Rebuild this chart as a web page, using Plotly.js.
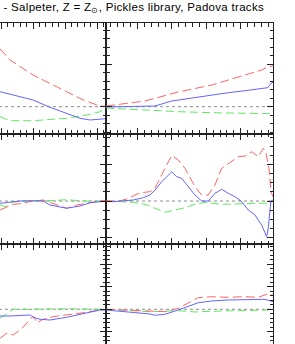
<!DOCTYPE html>
<html>
<head>
<meta charset="utf-8">
<script src="https://cdn.plot.ly/plotly-3.0.1.min.js"></script>
<style>
html,body{margin:0;padding:0;width:295px;height:344px;overflow:hidden;background:#fff;}
#chart{position:absolute;left:-61px;top:0;width:356px;height:355px;}
#chart .annotation-text{letter-spacing:0.3px;}
</style>
</head>
<body>
<div id="chart"></div>
<script>
// ---- Row 1 (top) ----
const r1L_red_x = [6.97, 7.28, 8.0, 8.53, 9.05, 9.57, 10.09, 10.28];
const r1L_red_y = [0.136, 0.110, 0.0746, 0.055, 0.0353, 0.0158, 0.0016, 0.0005];
const r1L_blue_x = [6.97, 8.0, 8.53, 9.05, 9.47, 9.78, 10.09, 10.28];
const r1L_blue_y = [0.0353, 0.0158, -0.0014, -0.0155, -0.0273, -0.0313, -0.0296, -0.0282];
const r1L_green_x = [6.97, 7.28, 8.0, 9.05, 9.68, 10.09, 10.28];
const r1L_green_y = [-0.0235, -0.033, -0.033, -0.0273, -0.0195, -0.0118, -0.003];

const r1R_red_x = [-0.924, -0.516, 0.213, 1.184, 2.157, 3.128, 3.516, 3.624, 3.79, 3.945];
const r1R_red_y = [0.0016, 0.0064, 0.0134, 0.0346, 0.051, 0.0746, 0.0824, 0.0864, 0.0941, 0.0958];
const r1R_blue_x = [-0.924, 0.213, 0.504, 0.991, 1.671, 2.157, 2.641, 3.128, 3.516, 3.79, 3.886, 3.945];
const r1R_blue_y = [-0.0007, 0, 0.0016, 0.0134, 0.0221, 0.0275, 0.0329, 0.0376, 0.0416, 0.0447, 0.055, 0.0574];
const r1R_green_x = [-0.924, -0.808, 0.262, 1.184, 2.157, 3.128, 3.857];
const r1R_green_y = [-0.002, -0.0038, -0.0078, -0.0118, -0.0141, -0.0155, -0.0165];

// ---- Row 2 (middle) ----
const r2L_red_x = [6.97, 7.18, 7.38, 7.59, 8.0, 8.32, 8.53, 9.05, 9.37, 9.78, 10.2, 10.28];
const r2L_red_y = [-0.0247, -0.0157, -0.0091, -0.0074, 0, 0.0027, -0.0036, -0.020, -0.011, -0.0036, 0.0019, 0.0019];
const r2L_blue_x = [6.97, 7.28, 7.59, 8.0, 8.32, 8.53, 9.05, 9.47, 9.78, 10.09, 10.28];
const r2L_blue_y = [-0.0063, -0.0036, 0, 0.0008, 0, -0.011, -0.020, -0.0137, -0.0047, -0.0019, -0.0008];
const r2L_green_x = [6.97, 7.125, 7.28, 7.80, 8.32, 9.05, 9.57, 10.28];
const r2L_green_y = [-0.011, -0.0157, -0.0036, 0, 0, 0.0036, 0, 0];

const r2R_red_x = [-0.924, -0.612, -0.321, -0.128, 0.067, 0.359, 0.504, 0.796, 0.991, 1.184, 1.379, 1.671, 1.866, 2.058, 2.254, 2.449, 2.74, 2.933, 3.128, 3.324, 3.516, 3.662, 3.732, 3.828, 3.886, 3.945];
const r2R_red_y = [0.0019, -0.0019, 0.0055, 0.0146, 0.0228, 0.0255, 0.0349, 0.0898, 0.1245, 0.1126, 0.0898, 0.0393, 0.0165, 0.0165, 0.044, 0.0898, 0.108, 0.1217, 0.1236, 0.1354, 0.1217, 0.1448, 0.1354, 0.0898, 0.0255, 0.0118];
const r2R_blue_x = [-0.924, -0.72, -0.128, 0.163, 0.359, 0.504, 0.70, 0.892, 0.991, 1.137, 1.283, 1.475, 1.671, 1.866, 2.058, 2.254, 2.449, 2.641, 2.837, 3.032, 3.224, 3.42, 3.615, 3.761, 3.808, 3.857, 3.886, 3.945];
const r2R_blue_y = [-0.0008, -0.0019, 0.0027, 0.0091, 0.0165, 0.030, 0.053, 0.0714, 0.080, 0.0668, 0.0624, 0.0393, 0.0165, 0, 0, 0.0212, 0.0321, 0.0212, 0.0118, -0.0019, -0.0247, -0.0385, -0.066, -0.098, -0.074, -0.0247, 0, 0.0027];
const r2R_green_x = [-0.924, -0.128, 0.213, 0.504, 0.796, 1.087, 1.379, 1.671, 1.962, 2.449, 3.128, 3.808];
const r2R_green_y = [0, -0.0036, -0.0091, -0.020, -0.031, -0.0247, -0.0184, -0.0091, -0.0036, -0.0091, -0.0063, -0.0055];

// ---- Row 3 (bottom) ----
const r3L_red_x = [6.97, 7.18, 7.38, 7.59, 7.75, 7.91, 8.01, 8.12, 8.32, 8.63, 9.05, 9.57, 10.09, 10.28];
const r3L_red_y = [-0.0644, -0.0533, -0.0571, -0.046, -0.0349, -0.0222, -0.0149, -0.0298, -0.0222, -0.0164, -0.0127, -0.0076, -0.0016, 0];
const r3L_blue_x = [6.97, 7.28, 7.91, 8.01, 8.22, 8.53, 9.05, 9.57, 10.09, 10.28];
const r3L_blue_y = [-0.0149, -0.0149, -0.0127, -0.0178, -0.0222, -0.0238, -0.0178, -0.0089, -0.0016, -0.0016];
const r3L_green_x = [6.97, 7.125, 7.28, 7.38, 9.05, 10.09, 10.28];
const r3L_green_y = [-0.020, -0.0127, -0.0053, 0, 0.0013, 0, 0];

const r3R_red_x = [-0.924, -0.321, 0.359, 0.796, 1.184, 1.475, 1.767, 2.157, 2.641, 3.128, 3.516, 3.761, 3.945];
const r3R_red_y = [0, -0.0016, -0.0031, -0.0053, 0.0022, 0.0133, 0.0258, 0.028, 0.0267, 0.028, 0.0267, 0.0333, 0.0318];
const r3R_blue_x = [-0.924, -0.321, 0.359, 0.504, 0.796, 1.184, 1.475, 1.767, 2.157, 2.641, 3.128, 3.516, 3.711, 3.945];
const r3R_blue_y = [-0.0016, -0.0053, -0.0104, -0.0133, -0.0111, -0.0016, 0.0073, 0.0147, 0.0184, 0.0207, 0.0213, 0.0229, 0.0222, 0.0169];
const r3R_green_x = [-0.924, 0.359, 1.184, 1.671, 2.157, 3.128, 3.808];
const r3R_green_y = [0, -0.0053, -0.0031, -0.006, -0.0044, -0.0031, -0.0016];

// axis ranges
const xLeftRange = [5.0625, 10.281];
const xRightRange = [-0.924, 3.945];
const yRanges = [[-0.0635, 0.197], [-0.119, 0.185], [-0.1016, 0.1444]];
const yDticks = [[0.1, 0.02], [0.1, 0.025], [0.05, 0.01]];
const titleText = "- Salpeter, Z = Z<sub>⊙</sub>, Pickles library, Padova tracks";

const RED = '#ff6464', BLUE = '#6464ff', GREEN = '#5fe85f', ZERO = '#8c8c8c';

const panels = [
  {row:0, col:0, red:[r1L_red_x,r1L_red_y], blue:[r1L_blue_x,r1L_blue_y], green:[r1L_green_x,r1L_green_y]},
  {row:0, col:1, red:[r1R_red_x,r1R_red_y], blue:[r1R_blue_x,r1R_blue_y], green:[r1R_green_x,r1R_green_y]},
  {row:1, col:0, red:[r2L_red_x,r2L_red_y], blue:[r2L_blue_x,r2L_blue_y], green:[r2L_green_x,r2L_green_y]},
  {row:1, col:1, red:[r2R_red_x,r2R_red_y], blue:[r2R_blue_x,r2R_blue_y], green:[r2R_green_x,r2R_green_y]},
  {row:2, col:0, red:[r3L_red_x,r3L_red_y], blue:[r3L_blue_x,r3L_blue_y], green:[r3L_green_x,r3L_green_y]},
  {row:2, col:1, red:[r3R_red_x,r3R_red_y], blue:[r3R_blue_x,r3R_blue_y], green:[r3R_green_x,r3R_green_y]}
];

const traces = [];
const layout = {
  width: 356, height: 355,
  margin: {l:0, r:22, t:23, b:0},
  paper_bgcolor:'#fff', plot_bgcolor:'#fff',
  showlegend:false,
  font:{family:'Liberation Sans, Arial, sans-serif', color:'#000'},
  annotations: [{
    text: titleText, xref:'paper', yref:'paper',
    x: 70/334, y: 1 + 15/332, xanchor:'left', yanchor:'middle',
    showarrow:false, font:{size:11.5, family:'Liberation Sans, Arial, sans-serif', color:'#000'}
  }]
};

panels.forEach((p, i) => {
  const n = i + 1;
  const xa = 'x' + (n === 1 ? '' : n), ya = 'y' + (n === 1 ? '' : n);
  const xr = p.col === 0 ? xLeftRange : xRightRange;
  const xtick0 = p.col === 0 ? 8 : 1;
  traces.push({x: xr, y: [0, 0], xaxis: xa, yaxis: ya, mode:'lines',
    line:{color:ZERO, width:1, dash:'dot'}, hoverinfo:'skip'});
  traces.push({x: p.green[0], y: p.green[1], xaxis: xa, yaxis: ya, mode:'lines',
    line:{color:GREEN, width:1, dash:'8px,4px'}});
  traces.push({x: p.red[0], y: p.red[1], xaxis: xa, yaxis: ya, mode:'lines',
    line:{color:RED, width:1, dash:'9px,4px'}});
  traces.push({x: p.blue[0], y: p.blue[1], xaxis: xa, yaxis: ya, mode:'lines',
    line:{color:BLUE, width:1}});
  const common = {showline:true, linecolor:'#222', linewidth:1, mirror:'allticks',
    ticks:'inside', ticklen:6, tickwidth:1, tickcolor:'#222',
    showticklabels:false, showgrid:false, zeroline:false, fixedrange:true};
  const ydom = [[2/3, 1], [1/3, 2/3], [0, 1/3]][p.row];
  layout['xaxis' + (n === 1 ? '' : n)] = Object.assign({}, common, {
    domain: p.col === 0 ? [0, 0.5] : [0.5, 1], range: xr, anchor: ya,
    tick0: xtick0, dtick: 1,
    minor: {ticks:'inside', ticklen:3.5, dtick:0.2, tickcolor:'#222', tickwidth:1, showgrid:false}
  });
  layout['yaxis' + (n === 1 ? '' : n)] = Object.assign({}, common, {
    domain: ydom, range: yRanges[p.row], anchor: xa,
    tick0: 0, dtick: yDticks[p.row][0],
    minor: {ticks:'inside', ticklen:3.5, dtick:yDticks[p.row][1], tickcolor:'#222', tickwidth:1, showgrid:false}
  });
});

Plotly.newPlot('chart', traces, layout, {staticPlot:true, displayModeBar:false});
</script>
</body>
</html>
